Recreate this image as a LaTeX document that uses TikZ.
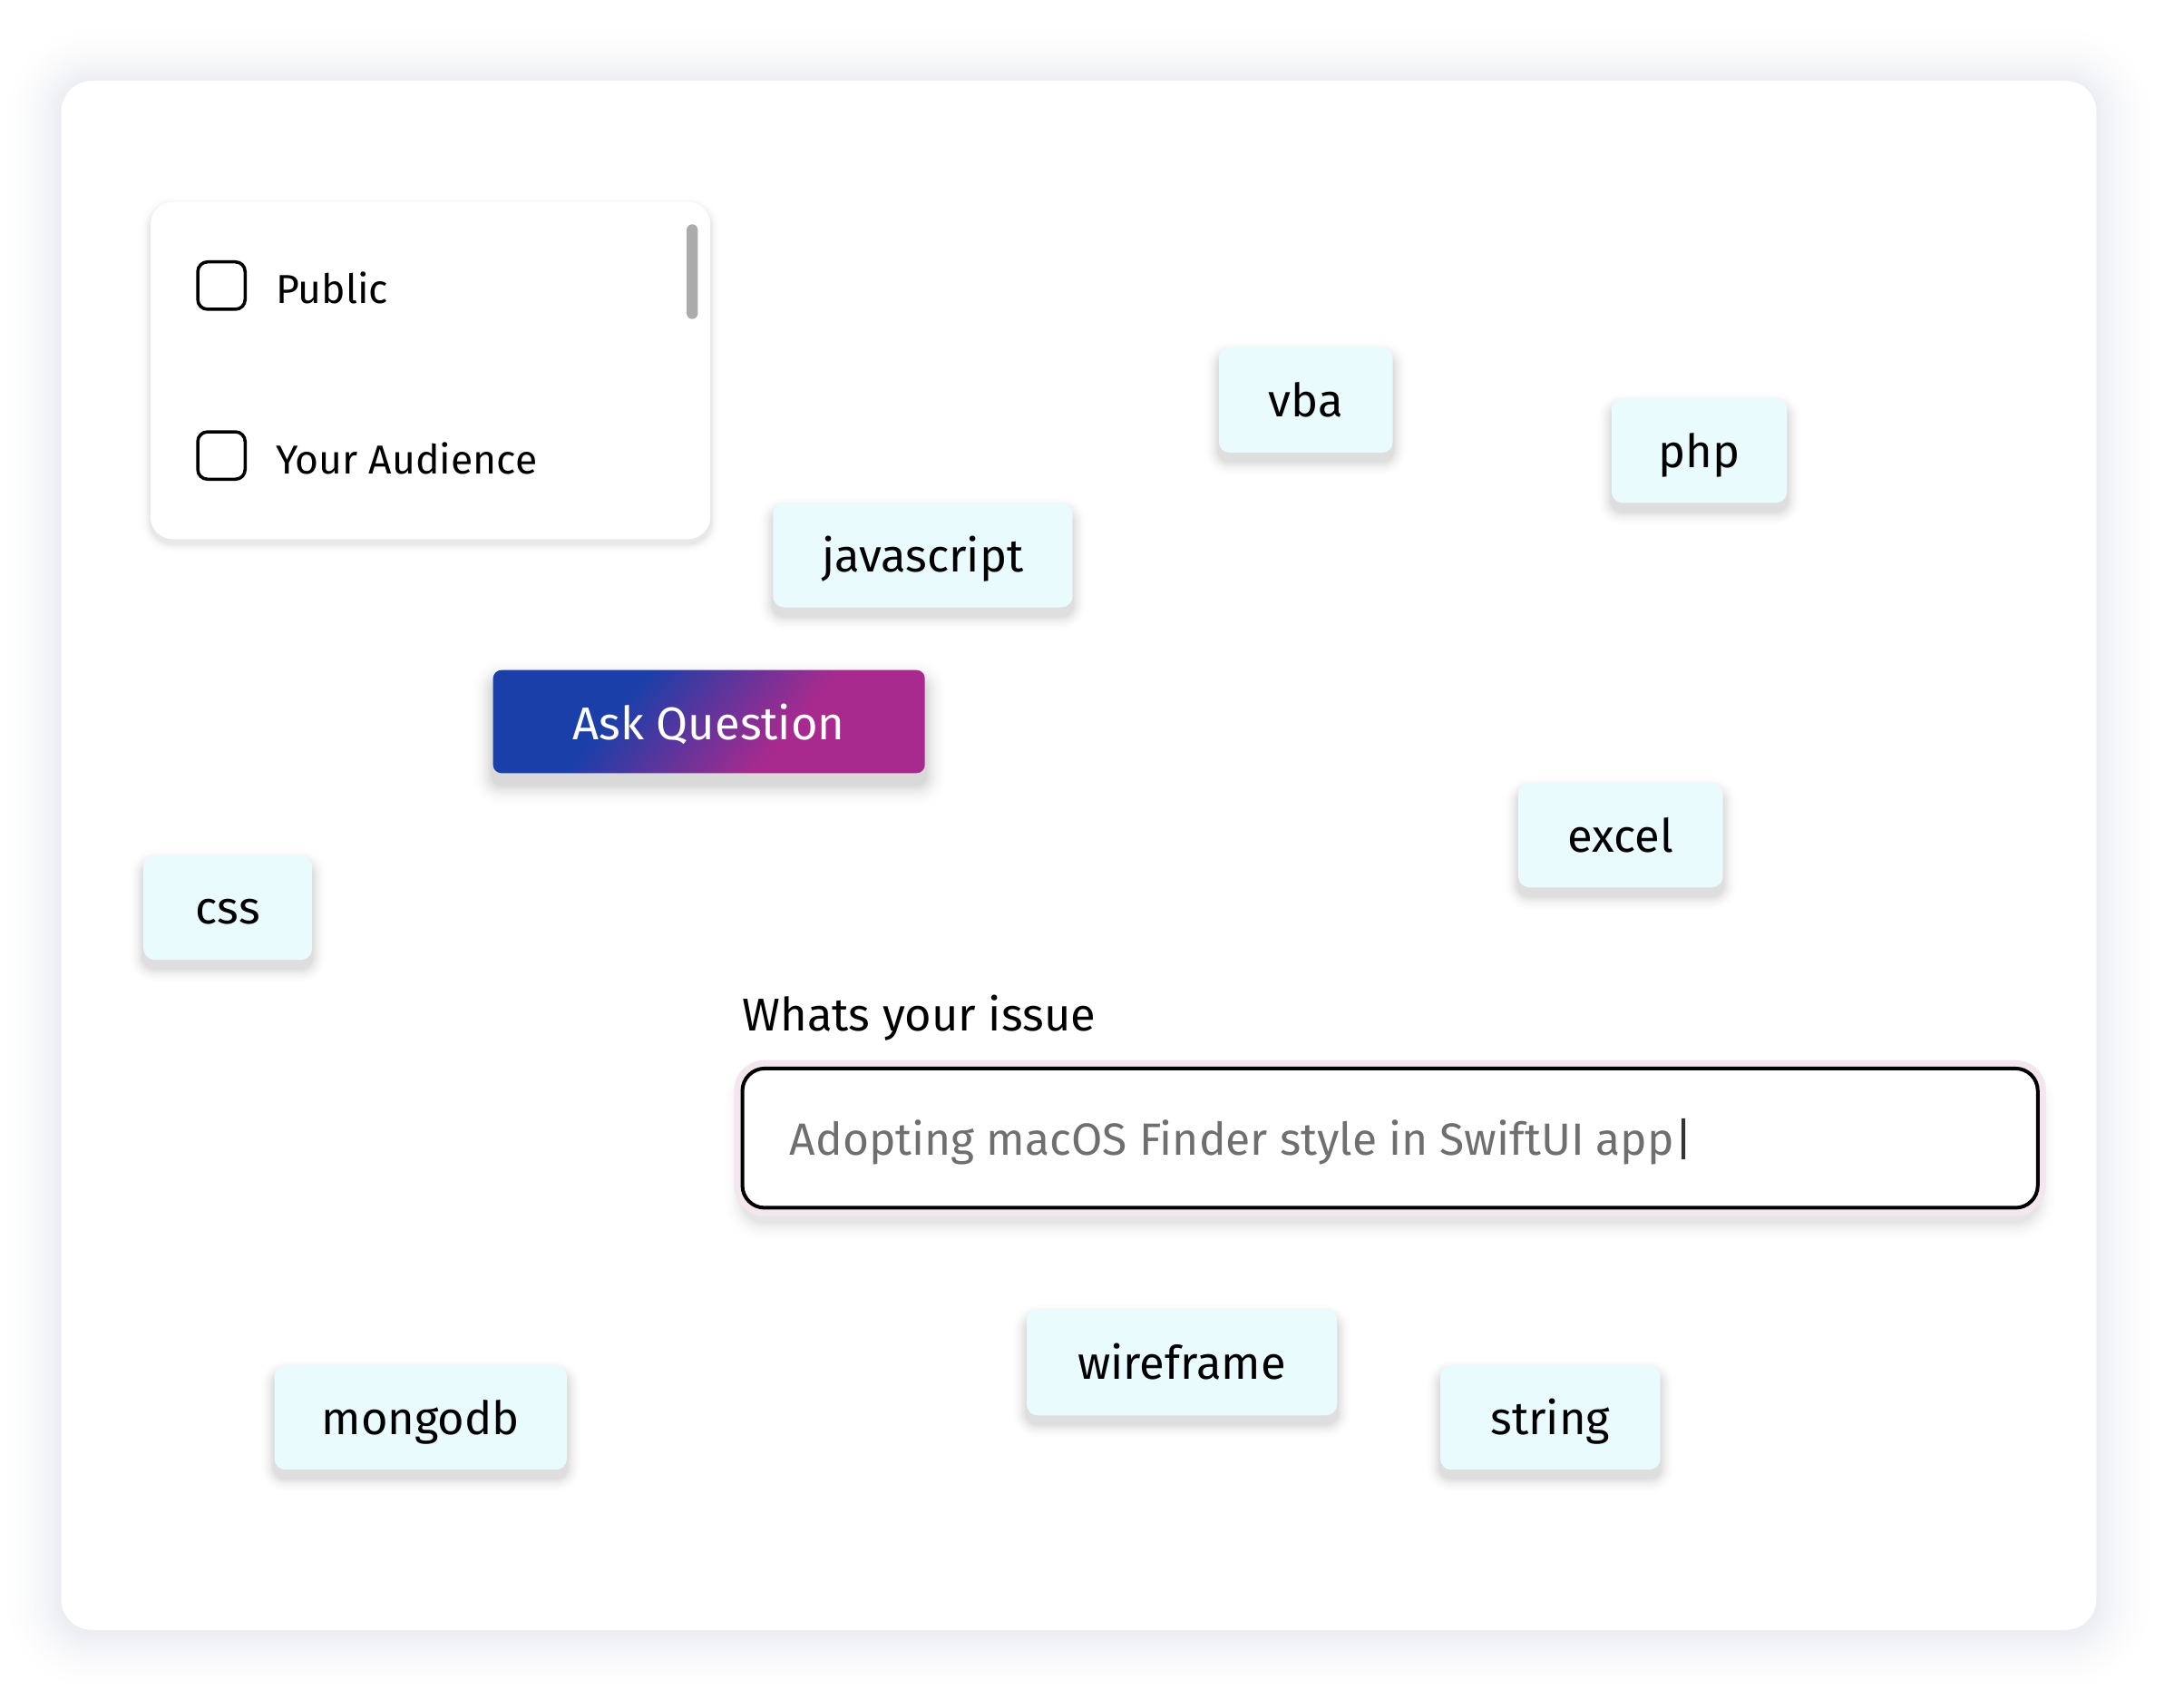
\documentclass[tikz,border=0pt]{standalone}
\usepackage{fontspec}
\setmainfont{Fira Sans}
\usetikzlibrary{calc}
\definecolor{tagfill}{HTML}{EAFBFD}
\definecolor{cardsh}{HTML}{ECEEF3}
\definecolor{btnblue}{HTML}{1A3FA9}
\definecolor{btnmag}{HTML}{A82A8E}
\definecolor{placeholder}{HTML}{6F6F6F}
\definecolor{glow}{HTML}{F4E6EE}
\definecolor{scrollgray}{HTML}{ABABAB}
\colorlet{shcolor}{black}
\pgfdeclarehorizontalshading{btnshade}{100bp}{color(0bp)=(btnblue); color(36bp)=(btnblue); color(62bp)=(btnmag); color(100bp)=(btnmag)}

% soft shadow drawn with opaque graded rings (on white ground):
% x1 y1 x2 y2 radius spread steps yshift
\newcommand{\softshadow}[8]{%
  \foreach \k in {1,...,#7}{%
    \pgfmathsetmacro{\ee}{#6*(1-(\k-1)/#7)}%
    \pgfmathsetmacro{\rr}{#5+\ee}%
    \pgfmathtruncatemacro{\pp}{100*(\k/#7)^2}%
    \fill[shcolor!\pp!white, rounded corners=\rr pt] (#1-\ee,#2-\ee+#8) rectangle (#3+\ee,#4+\ee+#8);
  }}

\newcommand{\tagitem}[6]{%
  \colorlet{shcolor}{black!13}%
  \softshadow{#2}{#3}{#4}{#5}{8}{11}{11}{6}%
  \pgfmathsetmacro{\cx}{(#2+#4)/2}\pgfmathsetmacro{\cy}{(#3+#5)/2}%
  \pgfmathsetmacro{\ww}{#4-#2}\pgfmathsetmacro{\hh}{#5-#3}%
  \node[tagbox, minimum width=\ww pt, minimum height=\hh pt] (#1) at (\cx,\cy) {#6};}

\tikzset{
  tagbox/.style={fill=tagfill, rounded corners=8pt, inner sep=0pt, outer sep=0pt,
    text height=24pt, text depth=0pt, font=\fontsize{33}{40}\selectfont, text=black},
  lbl/.style={anchor=base west, inner sep=0pt, outer sep=0pt, text=black},
  checkbox/.style={draw=black, line width=2.3pt, rounded corners=7pt}
}

\begin{document}
\begin{tikzpicture}[x=1pt,y=-1pt]
\useasboundingbox (0,0) rectangle (1568,1219);
\fill[white] (0,0) rectangle (1568,1219);

% outer card
\colorlet{shcolor}{cardsh}
\softshadow{44}{58}{1505}{1170}{22}{46}{30}{2}
\fill[white, rounded corners=22pt] (44,58) rectangle (1505,1170);

% options panel
\colorlet{shcolor}{black!9}
\softshadow{108}{145}{510}{387}{16}{7}{7}{3}
\fill[white, rounded corners=16pt] (108,145) rectangle (510,387);
\fill[scrollgray, rounded corners=4pt] (493,161) rectangle (501,229);
\draw[checkbox] (142,188) rectangle (176,222);
\draw[checkbox] (142,310) rectangle (176,344);
\node[lbl, font=\fontsize{29}{35}\selectfont] (public) at (198,218) {Public};
\node[lbl, font=\fontsize{29}{35}\selectfont] (audience) at (198,340) {Your Audience};

% tags
\tagitem{vba}{875}{249}{1000}{325}{vba}
\tagitem{php}{1157}{286}{1283}{361}{php}
\tagitem{js}{555}{361}{770}{436}{javascript}
\tagitem{excel}{1090}{562}{1237}{637}{excel}
\tagitem{css}{103}{614}{224}{689}{css}
\tagitem{wire}{737}{940}{960}{1016}{wireframe}
\tagitem{mongo}{197}{980}{407}{1055}{mongodb}
\tagitem{string}{1034}{980}{1192}{1055}{string}

% ask button
\colorlet{shcolor}{black!15}
\softshadow{354}{481}{664}{555}{6}{16}{14}{8}
\shade[shading=btnshade, shading angle=-40, rounded corners=6pt] (354,481) rectangle (664,555);
\node[anchor=base, inner sep=0pt, text=white, font=\fontsize{33}{40}\selectfont] (ask) at (509,531) {Ask Question};

% issue input
\node[lbl, font=\fontsize{33}{40}\selectfont] (issue) at (533,740) {Whats your issue};
\colorlet{shcolor}{black!10}
\softshadow{533}{767}{1463}{867}{16}{14}{12}{10}
\fill[glow, rounded corners=22pt] (527,761) rectangle (1469,873);
\draw[line width=2.6pt, fill=white, rounded corners=16pt] (533,767) rectangle (1463,867);
\node[lbl, text=placeholder, font=\fontsize{32.4}{38}\selectfont] (input) at (567,829) {Adopting macOS Finder style in SwiftUI app{\color{black!80}|}};
\end{tikzpicture}
\end{document}
